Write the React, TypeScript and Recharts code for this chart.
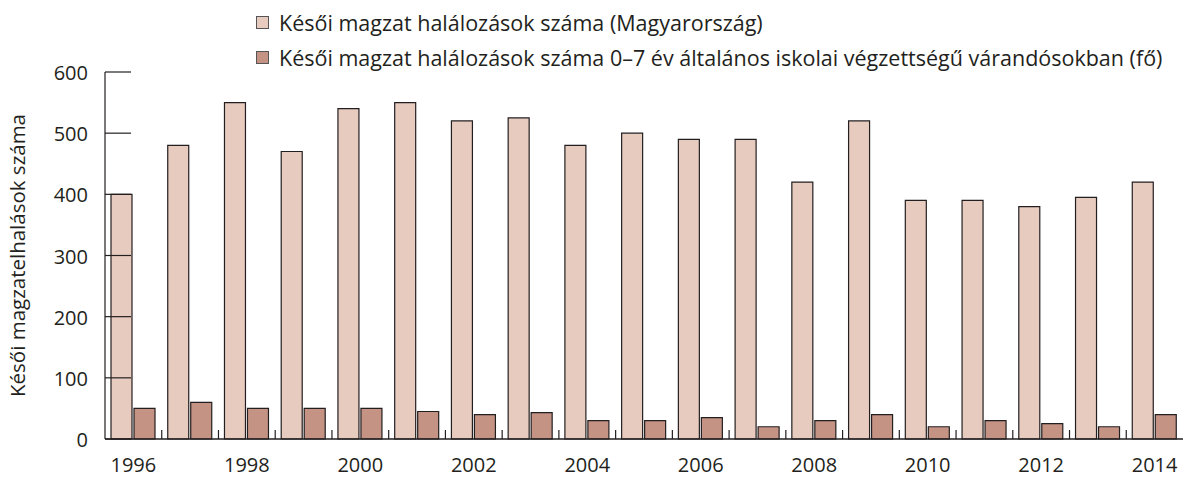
import { Bar, BarChart, Label, XAxis, YAxis } from "recharts";

const years = [
  "1996", "1997", "1998", "1999", "2000", "2001", "2002", "2003", "2004", "2005",
  "2006", "2007", "2008", "2009", "2010", "2011", "2012", "2013", "2014",
];
const hungaryTotal = [400, 480, 550, 470, 540, 550, 520, 525, 480, 500, 490, 490, 420, 520, 390, 390, 380, 395, 420];
const lowEducation = [50, 60, 50, 50, 50, 45, 40, 43, 30, 30, 35, 20, 30, 40, 20, 30, 25, 20, 40];
const yTicks = [0, 100, 200, 300, 400, 500, 600];

const seriesNames = [
  "Késői magzat halálozások száma (Magyarország)",
  "Késői magzat halálozások száma 0–7 év általános iskolai végzettségű várandósokban (fő)",
];

const chartData = years.map((year, i) => ({
  year,
  total: hungaryTotal[i],
  low: lowEducation[i],
}));

const WIDTH = 1186;
const HEIGHT = 477;
const AXIS_LEFT = 105;
const MARGIN_RIGHT = 3;
const INK = "#231f20";
const LIGHT = "#e8cbbf";
const DARK = "#c49384";
const FONT = "'Open Sans', sans-serif";
const band = (WIDTH - AXIS_LEFT - MARGIN_RIGHT) / years.length;

const YTick = (props: any) => {
  const { x, y, payload } = props;
  return (
    <g>
      <line x1={x + 17} x2={x + 43} y1={y} y2={y} stroke={INK} strokeWidth={1.2} />
      <text x={x} y={y + 8} textAnchor="end" fill={INK} fontSize={20} fontFamily={FONT}>
        {payload.value}
      </text>
    </g>
  );
};

const XTick = (props: any) => {
  const { x, y, payload, index } = props;
  const showLabel = Number(payload.value) % 2 === 0;
  const last = index === years.length - 1;
  return (
    <g>
      {!last && (
        <line x1={x + band / 2} x2={x + band / 2} y1={y} y2={y - 9} stroke={INK} strokeWidth={1.2} />
      )}
      {showLabel && (
        <text x={x} y={y + 33} textAnchor="middle" fill={INK} fontSize={20} fontFamily={FONT}>
          {payload.value}
        </text>
      )}
    </g>
  );
};

const LegendBox = () => (
  <div style={{ position: "absolute", left: 256, top: 5, fontFamily: FONT, fontSize: 21.5, color: INK }}>
    {seriesNames.map((name, i) => (
      <div key={name} style={{ display: "flex", alignItems: "center", height: 35, whiteSpace: "nowrap" }}>
        <span
          style={{
            width: 11,
            height: 11,
            background: i === 0 ? LIGHT : DARK,
            border: "1px solid #555",
            marginRight: 10,
            display: "inline-block",
          }}
        />
        <span>{name}</span>
      </div>
    ))}
  </div>
);

export default function App() {
  return (
    <div style={{ position: "absolute", left: 0, top: 0, width: WIDTH, height: HEIGHT, background: "#fff" }}>
      <LegendBox />
      <BarChart
        width={WIDTH}
        height={HEIGHT}
        data={chartData}
        margin={{ top: 72, right: MARGIN_RIGHT, bottom: 0, left: 0 }}
        barSize={21}
        barGap={2}
      >
        <XAxis
          dataKey="year"
          interval={0}
          height={38}
          tickSize={0}
          tickMargin={0}
          tickLine={false}
          tick={<XTick />}
          axisLine={{ stroke: INK, strokeWidth: 1.5 }}
        />
        <YAxis
          width={AXIS_LEFT}
          domain={[0, 600]}
          ticks={yTicks}
          interval={0}
          tickSize={0}
          tickMargin={17}
          tickLine={false}
          tick={<YTick />}
          axisLine={{ stroke: INK, strokeWidth: 1.2 }}
        >
          <Label
            value="Késői magzatelhalások száma"
            angle={-90}
            position="insideLeft"
            offset={18}
            style={{ textAnchor: "middle", fill: INK, fontSize: 20.5, fontFamily: FONT }}
          />
        </YAxis>
        <Bar dataKey="total" name={seriesNames[0]} fill={LIGHT} stroke={INK} strokeWidth={1.2} isAnimationActive={false} />
        <Bar dataKey="low" name={seriesNames[1]} fill={DARK} stroke={INK} strokeWidth={1.2} isAnimationActive={false} />
      </BarChart>
    </div>
  );
}
